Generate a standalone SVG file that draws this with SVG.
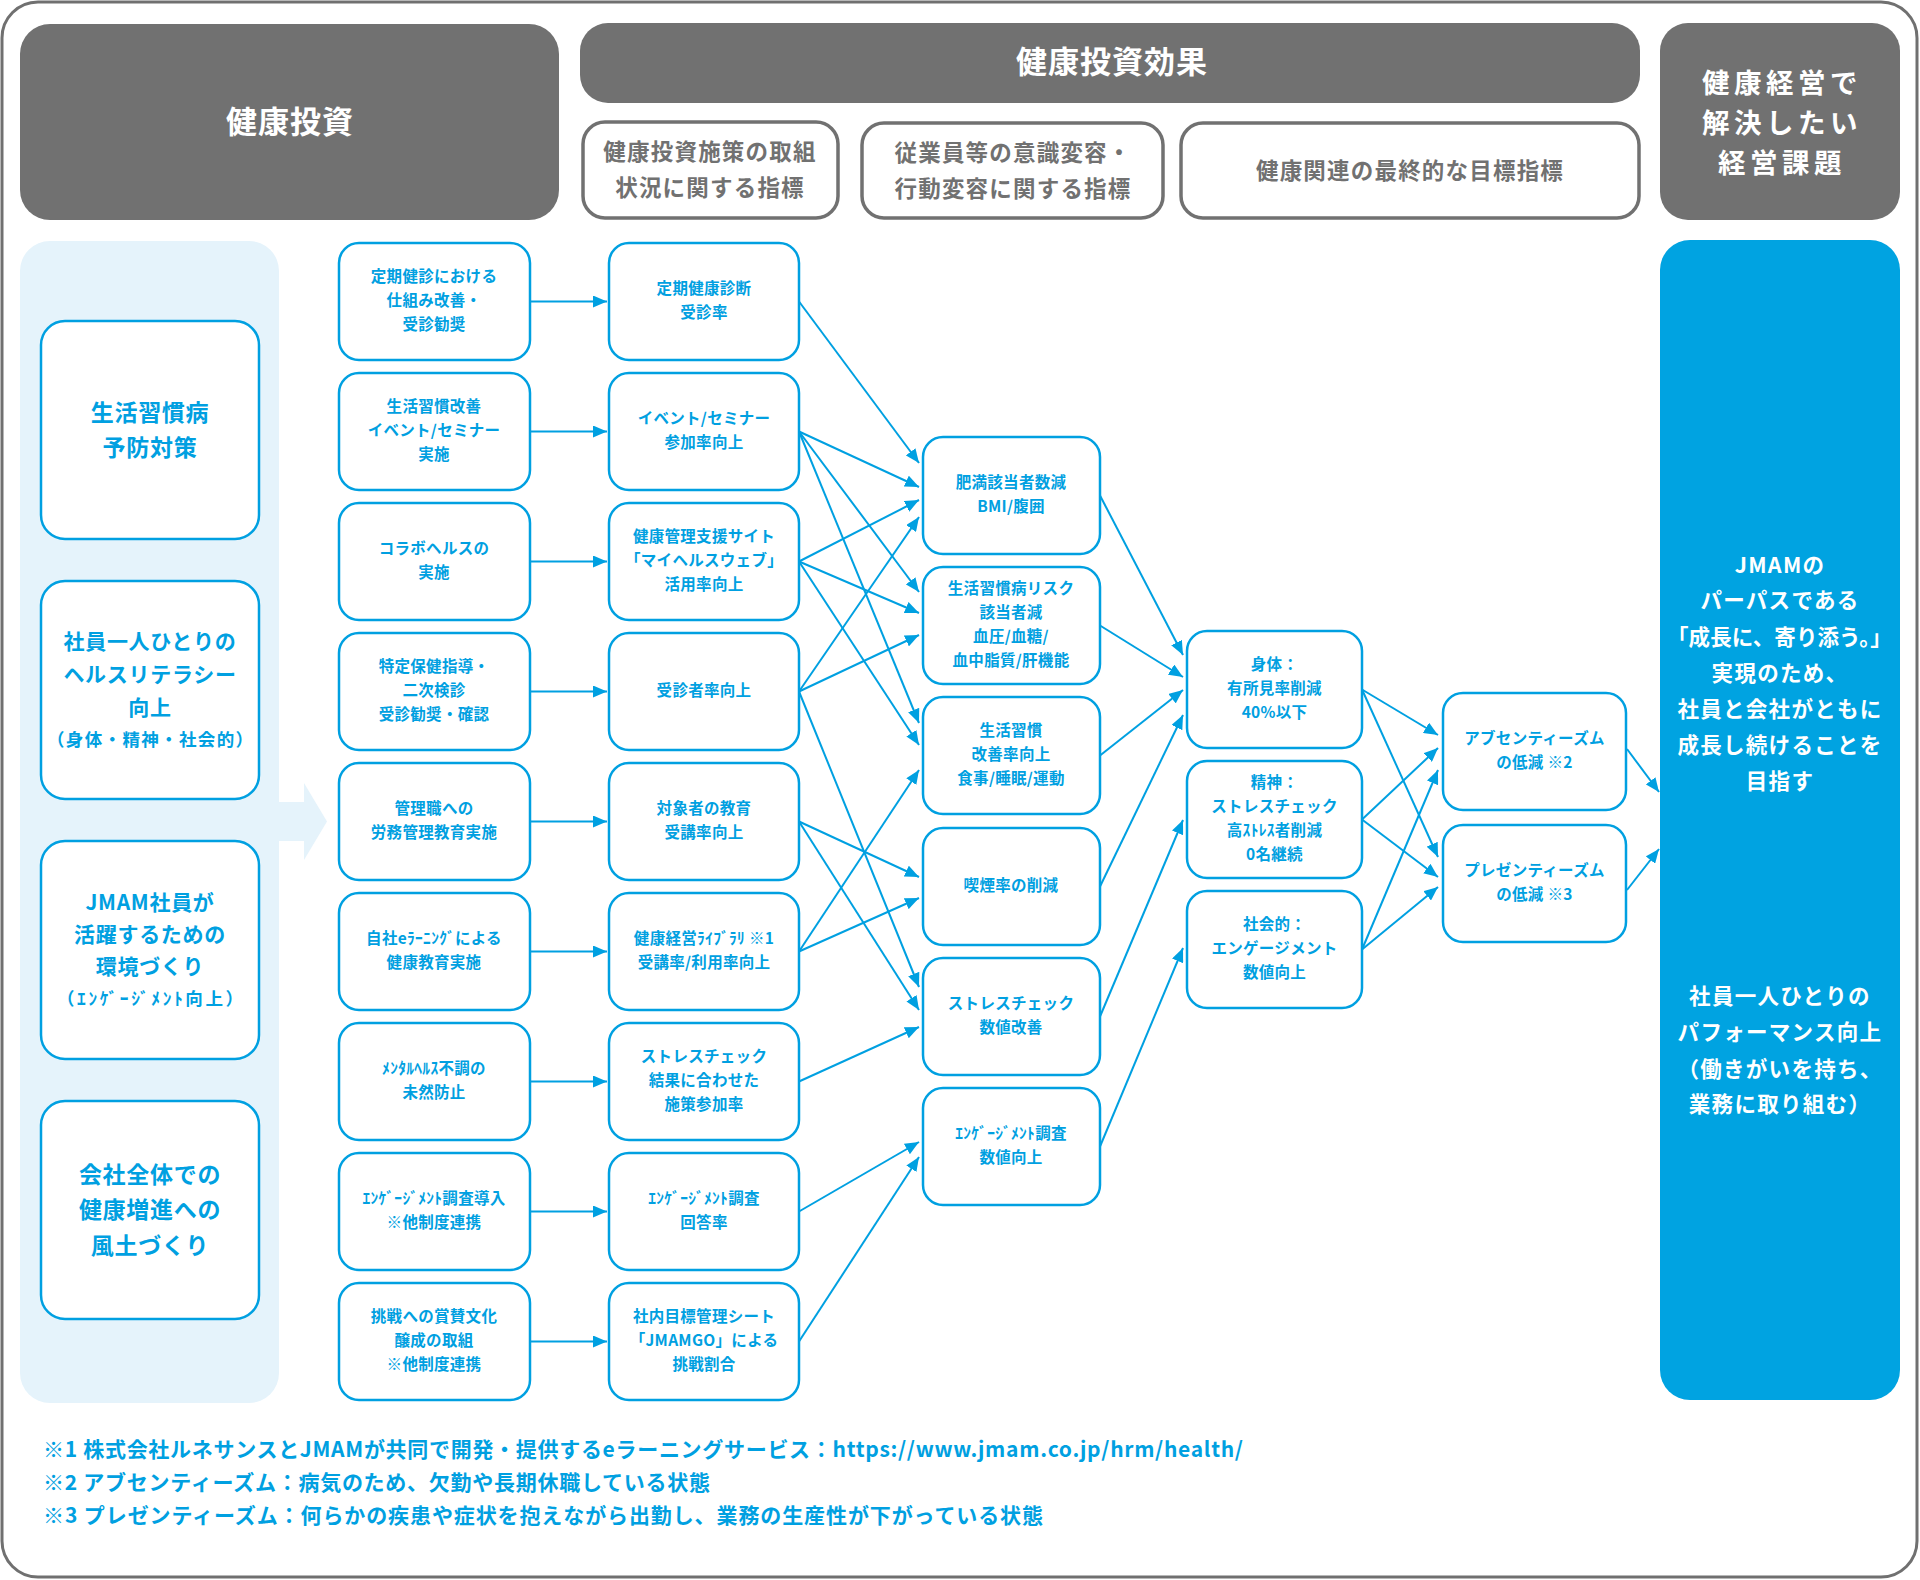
<svg xmlns="http://www.w3.org/2000/svg" width="1920" height="1580" viewBox="0 0 1920 1580">
<defs>
<style>
.t,.t tspan{font-family:'Noto Sans CJK JP','Noto Sans',sans-serif;font-weight:700;text-anchor:middle;dominant-baseline:central}
text.t{transform:translate(0px,-3px)}
.nb{fill:#fff;stroke:#00A0E1;stroke-width:2.5}
.nt{fill:#00A0E1;font-size:15.5px;letter-spacing:0.3px}
.lt{fill:#00A0E1;font-size:23px;letter-spacing:0.7px}
.lt2{fill:#00A0E1;font-size:21px;letter-spacing:0.7px}
.lts{fill:#00A0E1;font-size:17.5px}
.hd{fill:#717171}
.ht{fill:#fff;font-size:31px;letter-spacing:1px}
.ht2{fill:#fff;font-size:27.5px;letter-spacing:4.5px}
.sb{fill:#fff;stroke:#717171;stroke-width:3.5}
.st{fill:#717171;font-size:22.5px;letter-spacing:1.2px}
.pt{fill:#fff;font-size:21.5px;letter-spacing:1.3px}
.ft{fill:#00A0E1;font-size:21px;text-anchor:start}
.ft tspan{text-anchor:start}
#connectors line{stroke:#00A0E1;stroke-width:2;marker-end:url(#ah)}
</style>
<marker id="ah" markerUnits="userSpaceOnUse" markerWidth="15" markerHeight="12" refX="14" refY="6" orient="auto"><path d="M0,0 L14,6 L0,12 z" fill="#00A0E1"/></marker>
</defs>
<rect x="2" y="2" width="1915" height="1575" rx="36" fill="#fff" stroke="#707070" stroke-width="3"/>

<g id="header-investment"><rect class="hd" x="20" y="24" width="539" height="196" rx="30"/><text class="t ht" x="290" y="122">健康投資</text></g>
<g id="header-effect"><rect class="hd" x="580" y="23" width="1060" height="80" rx="28"/><text class="t ht" x="1112" y="62">健康投資効果</text></g>
<g id="sub-1"><rect class="sb" x="583" y="122" width="255" height="96" rx="22"/><text class="t st"><tspan x="710" y="153">健康投資施策の取組</tspan><tspan x="710" y="189">状況に関する指標</tspan></text></g>
<g id="sub-2"><rect class="sb" x="862" y="123" width="301" height="95" rx="22"/><text class="t st"><tspan x="1013" y="154">従業員等の意識変容・</tspan><tspan x="1013" y="190">行動変容に関する指標</tspan></text></g>
<g id="sub-3"><rect class="sb" x="1181" y="123" width="458" height="95" rx="22"/><text class="t st" x="1410" y="172">健康関連の最終的な目標指標</text></g>
<g id="header-issue"><rect class="hd" x="1660" y="23" width="240" height="197" rx="28"/><text class="t ht2"><tspan x="1782" y="84">健康経営で</tspan><tspan x="1782" y="124">解決したい</tspan><tspan x="1782" y="164">経営課題</tspan></text></g>

<g id="left-panel"><rect x="20" y="241" width="259" height="1162" rx="30" fill="#E5F3FB"/><polygon points="279,802 304,802 304,783 327,821.5 304,860 304,841 279,841" fill="#E5F3FB"/></g>
<g id="left-1"><rect class="nb" x="41" y="321" width="218" height="218" rx="24"/><text class="t lt"><tspan x="150" y="414">生活習慣病</tspan><tspan x="150" y="449">予防対策</tspan></text></g>
<g id="left-2"><rect class="nb" x="41" y="581" width="218" height="218" rx="24"/><text class="t lt2"><tspan x="150" y="643">社員一人ひとりの</tspan><tspan x="150" y="676">ヘルスリテラシー</tspan><tspan x="150" y="709">向上</tspan></text><text class="t lts" x="150" y="741" textLength="206">（身体・精神・社会的）</text></g>
<g id="left-3"><rect class="nb" x="41" y="841" width="218" height="218" rx="24"/><text class="t lt2"><tspan x="150" y="904">JMAM社員が</tspan><tspan x="150" y="936">活躍するための</tspan><tspan x="150" y="968">環境づくり</tspan></text><text class="t lts" x="150" y="1000" textLength="186">（ｴﾝｹﾞｰｼﾞﾒﾝﾄ向上）</text></g>
<g id="left-4"><rect class="nb" x="41" y="1101" width="218" height="218" rx="24"/><text class="t lt"><tspan x="150" y="1176">会社全体での</tspan><tspan x="150" y="1211">健康増進への</tspan><tspan x="150" y="1247">風土づくり</tspan></text></g>

<g id="c1-1"><rect class="nb" x="339" y="243" width="191" height="117" rx="20"/><text class="t nt"><tspan x="434" y="277.5">定期健診における</tspan><tspan x="434" y="301.5">仕組み改善・</tspan><tspan x="434" y="325.5">受診勧奨</tspan></text></g>
<g id="c1-2"><rect class="nb" x="339" y="373" width="191" height="117" rx="20"/><text class="t nt"><tspan x="434" y="407.5">生活習慣改善</tspan><tspan x="434" y="431.5">イベント/セミナー</tspan><tspan x="434" y="455.5">実施</tspan></text></g>
<g id="c1-3"><rect class="nb" x="339" y="503" width="191" height="117" rx="20"/><text class="t nt"><tspan x="434" y="549.5">コラボヘルスの</tspan><tspan x="434" y="573.5">実施</tspan></text></g>
<g id="c1-4"><rect class="nb" x="339" y="633" width="191" height="117" rx="20"/><text class="t nt"><tspan x="434" y="667.5">特定保健指導・</tspan><tspan x="434" y="691.5">二次検診</tspan><tspan x="434" y="715.5">受診勧奨・確認</tspan></text></g>
<g id="c1-5"><rect class="nb" x="339" y="763" width="191" height="117" rx="20"/><text class="t nt"><tspan x="434" y="809.5">管理職への</tspan><tspan x="434" y="833.5">労務管理教育実施</tspan></text></g>
<g id="c1-6"><rect class="nb" x="339" y="893" width="191" height="117" rx="20"/><text class="t nt"><tspan x="434" y="939.5">自社eﾗｰﾆﾝｸﾞによる</tspan><tspan x="434" y="963.5">健康教育実施</tspan></text></g>
<g id="c1-7"><rect class="nb" x="339" y="1023" width="191" height="117" rx="20"/><text class="t nt"><tspan x="434" y="1069.5">ﾒﾝﾀﾙﾍﾙｽ不調の</tspan><tspan x="434" y="1093.5">未然防止</tspan></text></g>
<g id="c1-8"><rect class="nb" x="339" y="1153" width="191" height="117" rx="20"/><text class="t nt"><tspan x="434" y="1199.5">ｴﾝｹﾞｰｼﾞﾒﾝﾄ調査導入</tspan><tspan x="434" y="1223.5">※他制度連携</tspan></text></g>
<g id="c1-9"><rect class="nb" x="339" y="1283" width="191" height="117" rx="20"/><text class="t nt"><tspan x="434" y="1317.5">挑戦への賞賛文化</tspan><tspan x="434" y="1341.5">醸成の取組</tspan><tspan x="434" y="1365.5">※他制度連携</tspan></text></g>

<g id="c2-1"><rect class="nb" x="609" y="243" width="190" height="117" rx="20"/><text class="t nt"><tspan x="704" y="289.5">定期健康診断</tspan><tspan x="704" y="313.5">受診率</tspan></text></g>
<g id="c2-2"><rect class="nb" x="609" y="373" width="190" height="117" rx="20"/><text class="t nt"><tspan x="704" y="419.5">イベント/セミナー</tspan><tspan x="704" y="443.5">参加率向上</tspan></text></g>
<g id="c2-3"><rect class="nb" x="609" y="503" width="190" height="117" rx="20"/><text class="t nt"><tspan x="704" y="537.5">健康管理支援サイト</tspan><tspan x="704" y="561.5">「マイヘルスウェブ」</tspan><tspan x="704" y="585.5">活用率向上</tspan></text></g>
<g id="c2-4"><rect class="nb" x="609" y="633" width="190" height="117" rx="20"/><text class="t nt" x="704" y="691.5">受診者率向上</text></g>
<g id="c2-5"><rect class="nb" x="609" y="763" width="190" height="117" rx="20"/><text class="t nt"><tspan x="704" y="809.5">対象者の教育</tspan><tspan x="704" y="833.5">受講率向上</tspan></text></g>
<g id="c2-6"><rect class="nb" x="609" y="893" width="190" height="117" rx="20"/><text class="t nt"><tspan x="704" y="939.5">健康経営ﾗｲﾌﾞﾗﾘ ※1</tspan><tspan x="704" y="963.5">受講率/利用率向上</tspan></text></g>
<g id="c2-7"><rect class="nb" x="609" y="1023" width="190" height="117" rx="20"/><text class="t nt"><tspan x="704" y="1057.5">ストレスチェック</tspan><tspan x="704" y="1081.5">結果に合わせた</tspan><tspan x="704" y="1105.5">施策参加率</tspan></text></g>
<g id="c2-8"><rect class="nb" x="609" y="1153" width="190" height="117" rx="20"/><text class="t nt"><tspan x="704" y="1199.5">ｴﾝｹﾞｰｼﾞﾒﾝﾄ調査</tspan><tspan x="704" y="1223.5">回答率</tspan></text></g>
<g id="c2-9"><rect class="nb" x="609" y="1283" width="190" height="117" rx="20"/><text class="t nt"><tspan x="704" y="1317.5">社内目標管理シート</tspan><tspan x="704" y="1341.5">「JMAMGO」による</tspan><tspan x="704" y="1365.5">挑戦割合</tspan></text></g>

<g id="c3-1"><rect class="nb" x="923" y="437" width="177" height="117" rx="20"/><text class="t nt"><tspan x="1011" y="483.5">肥満該当者数減</tspan><tspan x="1011" y="507.5">BMI/腹囲</tspan></text></g>
<g id="c3-2"><rect class="nb" x="923" y="567" width="177" height="117" rx="20"/><text class="t nt"><tspan x="1011" y="589.5">生活習慣病リスク</tspan><tspan x="1011" y="613.5">該当者減</tspan><tspan x="1011" y="637.5">血圧/血糖/</tspan><tspan x="1011" y="661.5">血中脂質/肝機能</tspan></text></g>
<g id="c3-3"><rect class="nb" x="923" y="697" width="177" height="117" rx="20"/><text class="t nt"><tspan x="1011" y="731.5">生活習慣</tspan><tspan x="1011" y="755.5">改善率向上</tspan><tspan x="1011" y="779.5">食事/睡眠/運動</tspan></text></g>
<g id="c3-4"><rect class="nb" x="923" y="828" width="177" height="117" rx="20"/><text class="t nt" x="1011" y="886.5">喫煙率の削減</text></g>
<g id="c3-5"><rect class="nb" x="923" y="958" width="177" height="117" rx="20"/><text class="t nt"><tspan x="1011" y="1004.5">ストレスチェック</tspan><tspan x="1011" y="1028.5">数値改善</tspan></text></g>
<g id="c3-6"><rect class="nb" x="923" y="1088" width="177" height="117" rx="20"/><text class="t nt"><tspan x="1011" y="1134.5">ｴﾝｹﾞｰｼﾞﾒﾝﾄ調査</tspan><tspan x="1011" y="1158.5">数値向上</tspan></text></g>

<g id="c4-1"><rect class="nb" x="1187" y="631" width="175" height="117" rx="20"/><text class="t nt"><tspan x="1274.5" y="666">身体：</tspan><tspan x="1274.5" y="690">有所見率削減</tspan><tspan x="1274.5" y="714">40%以下</tspan></text></g>
<g id="c4-2"><rect class="nb" x="1187" y="761" width="175" height="117" rx="20"/><text class="t nt"><tspan x="1274.5" y="784">精神：</tspan><tspan x="1274.5" y="808">ストレスチェック</tspan><tspan x="1274.5" y="832">高ｽﾄﾚｽ者削減</tspan><tspan x="1274.5" y="856">0名継続</tspan></text></g>
<g id="c4-3"><rect class="nb" x="1187" y="891" width="175" height="117" rx="20"/><text class="t nt"><tspan x="1274.5" y="926">社会的：</tspan><tspan x="1274.5" y="950">エンゲージメント</tspan><tspan x="1274.5" y="974">数値向上</tspan></text></g>

<g id="c5-1"><rect class="nb" x="1443" y="693" width="183" height="117" rx="20"/><text class="t nt"><tspan x="1534.5" y="739.5">アブセンティーズム</tspan><tspan x="1534.5" y="763.5">の低減 ※2</tspan></text></g>
<g id="c5-2"><rect class="nb" x="1443" y="825" width="183" height="117" rx="20"/><text class="t nt"><tspan x="1534.5" y="871.5">プレゼンティーズム</tspan><tspan x="1534.5" y="895.5">の低減 ※3</tspan></text></g>

<g id="goal-panel"><rect x="1660" y="240" width="240" height="1160" rx="30" fill="#00A3E1"/><text class="t pt"><tspan x="1780" y="565.5">JMAMの</tspan><tspan x="1780" y="601">パーパスである</tspan><tspan x="1780" y="638" textLength="226">「成長に、寄り添う。」</tspan><tspan x="1780" y="674">実現のため、</tspan><tspan x="1780" y="710">社員と会社がともに</tspan><tspan x="1780" y="746">成長し続けることを</tspan><tspan x="1780" y="782">目指す</tspan><tspan x="1780" y="996.5">社員一人ひとりの</tspan><tspan x="1780" y="1033">パフォーマンス向上</tspan><tspan x="1780" y="1069.5">（働きがいを持ち、</tspan><tspan x="1780" y="1105">業務に取り組む）</tspan></text></g>

<g id="connectors">
<line x1="530" y1="301.5" x2="607" y2="301.5"/>
<line x1="530" y1="431.5" x2="607" y2="431.5"/>
<line x1="530" y1="561.5" x2="607" y2="561.5"/>
<line x1="530" y1="691.5" x2="607" y2="691.5"/>
<line x1="530" y1="821.5" x2="607" y2="821.5"/>
<line x1="530" y1="951.5" x2="607" y2="951.5"/>
<line x1="530" y1="1081.5" x2="607" y2="1081.5"/>
<line x1="530" y1="1211.5" x2="607" y2="1211.5"/>
<line x1="530" y1="1341.5" x2="607" y2="1341.5"/>
<line x1="799" y1="301.5" x2="919" y2="463"/>
<line x1="799" y1="431.5" x2="919" y2="487"/>
<line x1="799" y1="431.5" x2="919" y2="592"/>
<line x1="799" y1="431.5" x2="919" y2="723"/>
<line x1="799" y1="561.5" x2="919" y2="500"/>
<line x1="799" y1="561.5" x2="919" y2="613"/>
<line x1="799" y1="561.5" x2="919" y2="745"/>
<line x1="799" y1="691.5" x2="919" y2="517"/>
<line x1="799" y1="691.5" x2="919" y2="635"/>
<line x1="799" y1="691.5" x2="919" y2="987"/>
<line x1="799" y1="821.5" x2="919" y2="877"/>
<line x1="799" y1="821.5" x2="919" y2="1010"/>
<line x1="799" y1="951.5" x2="919" y2="770"/>
<line x1="799" y1="951.5" x2="919" y2="898"/>
<line x1="799" y1="1081.5" x2="919" y2="1027"/>
<line x1="799" y1="1211.5" x2="919" y2="1142"/>
<line x1="799" y1="1341.5" x2="919" y2="1157"/>
<line x1="1100" y1="495.5" x2="1183" y2="655"/>
<line x1="1100" y1="625.5" x2="1183" y2="677"/>
<line x1="1100" y1="755.5" x2="1183" y2="690"/>
<line x1="1100" y1="886.5" x2="1183" y2="715"/>
<line x1="1100" y1="1016.5" x2="1183" y2="820"/>
<line x1="1100" y1="1146.5" x2="1183" y2="948"/>
<line x1="1362" y1="689.5" x2="1438" y2="735"/>
<line x1="1362" y1="689.5" x2="1438" y2="857"/>
<line x1="1362" y1="819.5" x2="1438" y2="748"/>
<line x1="1362" y1="819.5" x2="1438" y2="877"/>
<line x1="1362" y1="949.5" x2="1438" y2="770"/>
<line x1="1362" y1="949.5" x2="1438" y2="887"/>
<line x1="1627" y1="749" x2="1659" y2="792"/>
<line x1="1627" y1="890" x2="1659" y2="849"/>
</g>

<g id="footnotes"><text class="t ft"><tspan x="43" y="1451" textLength="1200">※1 株式会社ルネサンスとJMAMが共同で開発・提供するeラーニングサービス：https://www.jmam.co.jp/hrm/health/</tspan><tspan x="43" y="1484" textLength="667">※2 アブセンティーズム：病気のため、欠勤や長期休職している状態</tspan><tspan x="43" y="1517" textLength="1000">※3 プレゼンティーズム：何らかの疾患や症状を抱えながら出勤し、業務の生産性が下がっている状態</tspan></text></g>
</svg>
